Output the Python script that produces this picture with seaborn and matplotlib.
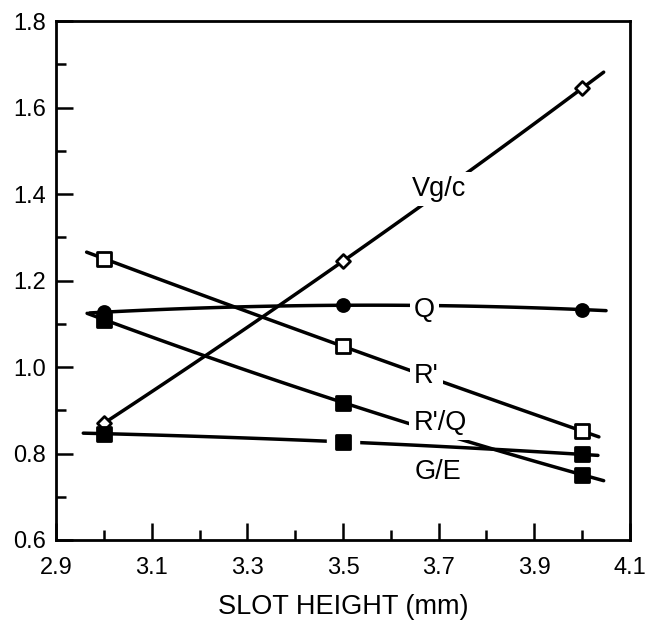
import numpy as np
import matplotlib
matplotlib.use("Agg")
import matplotlib.pyplot as plt
import seaborn as sns

# Valores
slot_height = [3.0, 3.5, 4.0]
vg_c = [0.87, 1.245, 1.645]
q_vals = [1.127, 1.143, 1.133]
r_prime = [1.251, 1.048, 0.852]
r_prime_q = [1.110, 0.918, 0.751]
g_e = [0.846, 0.827, 0.798]

series_names = ["Vg/c", "Q", "R'", "R'/Q", "G/E"]
x_ticks = [2.9, 3.1, 3.3, 3.5, 3.7, 3.9, 4.1]
y_ticks = [0.6, 0.8, 1.0, 1.2, 1.4, 1.6, 1.8]

sns.set_theme(style="ticks")
plt.rcParams['font.family'] = ['Liberation Sans', 'DejaVu Sans']
plt.rcParams['text.color'] = 'black'
plt.rcParams['axes.labelcolor'] = 'black'
plt.rcParams['xtick.color'] = 'black'
plt.rcParams['ytick.color'] = 'black'

fig = plt.figure(figsize=(6.46, 6.25), dpi=100)
ax = fig.add_axes([0.0867, 0.136, 0.8885, 0.830])

# estilo de cada serie: (valores, marcador, relleno, tamaño, tramo de la recta, texto)
styles = {
    "Vg/c": (vg_c, "D", "white", 50, (3.0, 4.045), (3.645, 1.396)),
    "Q": (q_vals, "o", "black", 75, (2.97, 4.05), (3.648, 1.117)),
    "R'": (r_prime, "s", "white", 95, (2.964, 4.035), (3.648, 0.964)),
    "R'/Q": (r_prime_q, "s", "black", 100, (2.965, 4.045), (3.647, 0.855)),
    "G/E": (g_e, "s", "black", 95, (2.957, 4.033), (3.65, 0.741)),
}

for name in series_names:
    vals, mk, face, size, (x0, x1), (tx, ty) = styles[name]
    coef = np.polyfit(slot_height, vals, 2)
    xs = np.linspace(x0, x1, 60)
    sns.lineplot(x=xs, y=np.polyval(coef, xs), color="black", lw=2.5, ax=ax, zorder=2)
    if name == "G/E":
        # hueco de la linea alrededor del punto central
        ax.scatter([slot_height[1]], [vals[1]], marker="s", s=500, color="white", zorder=3)
    sns.scatterplot(x=slot_height, y=vals, marker=mk, s=size, facecolor=face,
                    edgecolor="black", linewidth=2.0, ax=ax, zorder=4)
    ax.text(tx, ty, name, fontsize=19.5, color="black", ha="left", va="baseline", zorder=5,
            bbox=dict(boxstyle="square,pad=0.15", fc="white", ec="none"))

ax.set_xlim(2.9, 4.1)
ax.set_ylim(0.6, 1.8)
ax.set_xticks(x_ticks)
ax.set_xticklabels([f"{t:.1f}" for t in x_ticks])
ax.set_yticks(y_ticks)
ax.set_yticklabels([f"{t:.1f}" for t in y_ticks])
ax.set_xticks(np.arange(3.0, 4.05, 0.2), minor=True)
ax.set_yticks(np.arange(0.7, 1.75, 0.2), minor=True)

ax.tick_params(which="major", direction="in", length=12, width=1.8, labelsize=17,
               color="black", labelcolor="black")
ax.tick_params(which="minor", direction="in", length=7, width=1.8, color="black")
ax.tick_params(axis="y", which="major", pad=7)
ax.tick_params(axis="x", which="major", pad=12)

for sp in ax.spines.values():
    sp.set_linewidth(2.0)
    sp.set_color("black")

ax.set_xlabel("SLOT HEIGHT (mm)", fontsize=19.5, labelpad=11, color="black")
ax.set_ylabel("")

fig.savefig("out.png", dpi=100)
